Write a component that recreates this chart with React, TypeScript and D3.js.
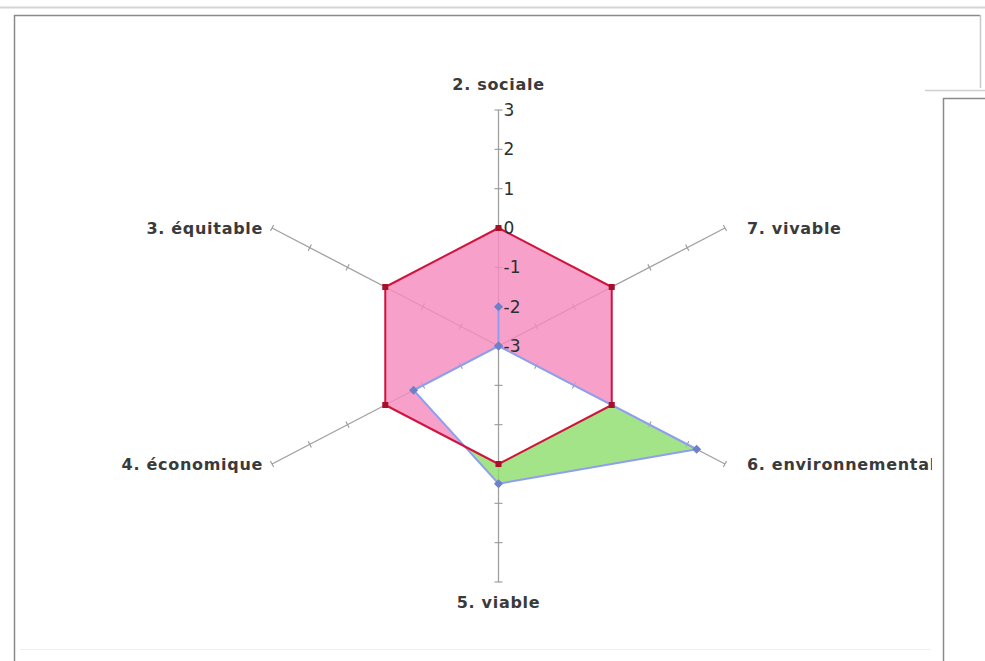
import React from "react";
import * as d3 from "d3";

const categories = [
  "2. sociale",
  "3. équitable",
  "4. économique",
  "5. viable",
  "6. environnementale",
  "7. vivable",
];
const redValues = [0, 0, 0, 0, 0, 0];
const blueValues = [-2, -3, -0.75, 0.5, 2.25, -3];
const tickValues = [-3, -2, -1, 0, 1, 2, 3];

const W = 985;
const H = 661;
const cx = 498.5;
const cy = 346;
const R = 236;
const xStretch = 1.108;

const rScale = d3.scaleLinear().domain([-3, 3]).range([0, R]);
// counter-clockwise from top
const angleScale = d3
  .scaleLinear()
  .domain([0, categories.length])
  .range([-Math.PI / 2, -Math.PI / 2 - 2 * Math.PI]);

function pt(i: number, v: number): [number, number] {
  const a = angleScale(i);
  const r = rScale(v);
  return [cx + r * Math.cos(a) * xStretch, cy + r * Math.sin(a)];
}

const line = d3
  .line<[number, number]>()
  .x((d) => d[0])
  .y((d) => d[1])
  .curve(d3.curveLinearClosed);

export default function App() {
  const redPts = redValues.map((v, i) => pt(i, v));
  const bluePts = blueValues.map((v, i) => pt(i, v));
  const redPath = line(redPts) || "";
  const bluePath = line(bluePts) || "";
  const font = "'DejaVu Sans', Verdana, sans-serif";

  return (
    <svg
      width={W}
      height={H}
      style={{ position: "absolute", left: 0, top: 0, background: "#fff" }}
    >
      <defs>
        <mask id="notBlue" maskUnits="userSpaceOnUse" x={0} y={0} width={W} height={H}>
          <rect x={0} y={0} width={W} height={H} fill="#fff" />
          <path d={bluePath} fill="#000" />
        </mask>
        <mask id="notRed" maskUnits="userSpaceOnUse" x={0} y={0} width={W} height={H}>
          <rect x={0} y={0} width={W} height={H} fill="#fff" />
          <path d={redPath} fill="#000" />
        </mask>
        <clipPath id="plotClip">
          <rect x={14} y={15} width={918} height={646} />
        </clipPath>
      </defs>

      {/* frame */}
      <line x1={0} x2={W} y1={7.5} y2={7.5} stroke="#d4d4d4" strokeWidth={2} />
      <line x1={14} x2={980} y1={15.5} y2={15.5} stroke="#8a8a8a" strokeWidth={1.5} />
      <line x1={14.5} x2={14.5} y1={15} y2={H} stroke="#8a8a8a" strokeWidth={1.5} />
      <line x1={980.5} x2={980.5} y1={15} y2={88} stroke="#c8c8c8" strokeWidth={1.5} />
      <line x1={20} x2={930} y1={649.5} y2={649.5} stroke="#efefef" strokeWidth={1} />

      {/* spokes */}
      {categories.map((c, i) => {
        const [x2, y2] = pt(i, 3);
        const a = angleScale(i);
        const dx = Math.cos(a) * xStretch;
        const dy = Math.sin(a);
        const len = Math.hypot(dx, dy);
        const px = -dy / len;
        const py = dx / len;
        const h = i === 0 || i === 3 ? 4 : 3.5;
        return (
          <g key={c}>
            <line x1={cx} y1={cy} x2={x2} y2={y2} stroke="#a0a0a0" strokeWidth={1.3} />
            {tickValues
              .filter((t) => t > -3)
              .map((t) => {
                const [tx, ty] = pt(i, t);
                return (
                  <line
                    key={t}
                    x1={tx - px * h}
                    y1={ty - py * h}
                    x2={tx + px * h}
                    y2={ty + py * h}
                    stroke="#999"
                    strokeWidth={1.1}
                  />
                );
              })}
          </g>
        );
      })}

      {/* fills */}
      <path d={redPath} fill="#f58cbe" fillOpacity={0.82} mask="url(#notBlue)" />
      <path d={bluePath} fill="#8ede6c" fillOpacity={0.82} mask="url(#notRed)" />

      {/* series lines */}
      <path d={bluePath} fill="none" stroke="#8f9ff0" strokeWidth={2} strokeLinejoin="round" />
      <path d={redPath} fill="none" stroke="#d0143c" strokeWidth={2} strokeLinejoin="round" />

      {/* markers */}
      {bluePts.map(([x, y], i) => (
        <path
          key={"b" + i}
          d={`M${x},${y - 4.5}L${x + 4.5},${y}L${x},${y + 4.5}L${x - 4.5},${y}Z`}
          fill="#6d80c8"
        />
      ))}
      {redPts.map(([x, y], i) => (
        <rect key={"r" + i} x={x - 3} y={y - 3} width={6} height={6} fill="#a8102a" />
      ))}

      {/* tick labels on first axis */}
      {tickValues.map((t) => {
        const [x, y] = pt(0, t);
        return (
          <text
            key={t}
            x={x + 5}
            y={y}
            dy="0.36em"
            fontFamily={font}
            fontSize={17}
            fill="#2e2e2e"
          >
            {t < 0 ? "-" + Math.abs(t) : String(t)}
          </text>
        );
      })}

      {/* category labels */}
      <g clipPath="url(#plotClip)">
        {categories.map((c, i) => {
          const [x, y] = pt(i, 3);
          const a = angleScale(i);
          const cs = Math.cos(a);
          const sn = Math.sin(a);
          let anchor = "middle";
          let lx = x;
          let ly = y;
          if (Math.abs(cs) < 0.1) {
            ly = y + (sn < 0 ? -26 : 20);
          } else if (cs > 0) {
            anchor = "start";
            lx = x + 22;
          } else {
            anchor = "end";
            lx = x - 9;
          }
          return (
            <text
              key={c}
              x={lx}
              y={ly}
              dy="0.36em"
              textAnchor={anchor as any}
              fontFamily={font}
              fontSize={16}
              fontWeight="bold"
              letterSpacing={0.7}
              fill="#3a3a3a"
            >
              {c}
            </text>
          );
        })}
      </g>

      {/* right legend box (partially visible) */}
      <rect x={932} y={90} width={60} height={H - 90} fill="#fff" />
      <line x1={925} x2={W} y1={90.5} y2={90.5} stroke="#d0d0d0" strokeWidth={1.5} />
      <line x1={943} x2={W} y1={98.5} y2={98.5} stroke="#8a8a8a" strokeWidth={1.5} />
      <line x1={943.5} x2={943.5} y1={98} y2={H} stroke="#8a8a8a" strokeWidth={1.5} />
    </svg>
  );
}
